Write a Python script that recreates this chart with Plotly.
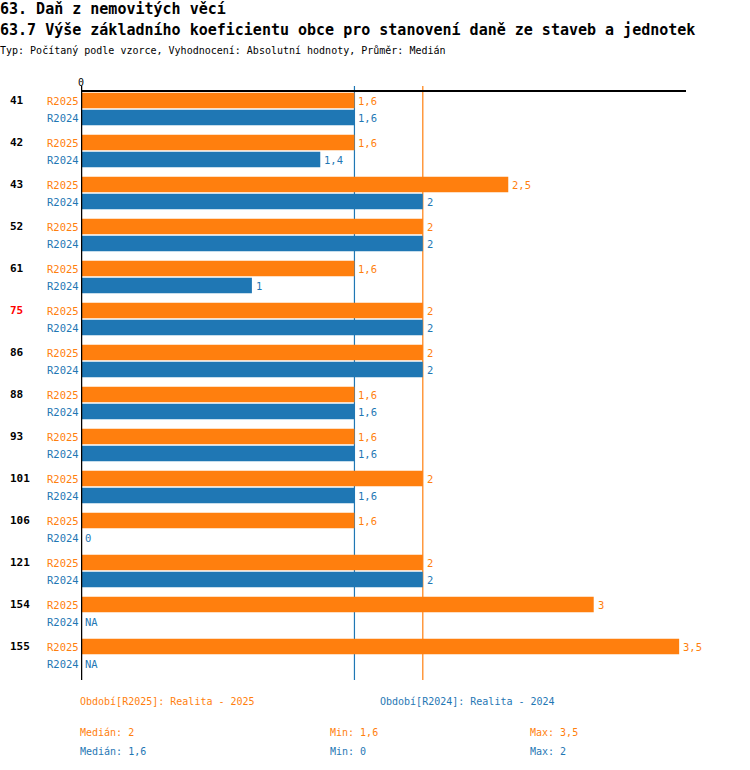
import plotly.graph_objects as go

# Data
groups = ["41", "42", "43", "52", "61", "75", "86", "88", "93", "101", "106", "121", "154", "155"]
r2025 = [1.6, 1.6, 2.5, 2, 1.6, 2, 2, 1.6, 1.6, 2, 1.6, 2, 3, 3.5]
r2024 = [1.6, 1.4, 2, 2, 1, 2, 2, 1.6, 1.6, 1.6, 0, 2, None, None]
highlight = "75"

median_2025 = 2
median_2024 = 1.6
stats_2025 = ["Medián: 2", "Min: 1,6", "Max: 3,5"]
stats_2024 = ["Medián: 1,6", "Min: 0", "Max: 2"]

ORANGE = "#ff7f0e"
BLUE = "#1f77b4"
FONT = "DejaVu Sans Mono"

W, H = 750, 770
L, R, T, B = 81, 64, 92, 90
plot_h = H - T - B
plot_w = W - L - R


def py(p):
    # pixel row -> paper y
    return (H - B - p) / plot_h


def px(p):
    return (p - L) / plot_w


def fmt(v):
    if v is None:
        return "NA"
    return ("%g" % v).replace(".", ",")


fig = go.Figure()
fig.add_trace(go.Bar(y=groups, x=r2025, orientation="h", name="R2025",
                     marker=dict(color=ORANGE, line=dict(width=0))))
fig.add_trace(go.Bar(y=groups, x=r2024, orientation="h", name="R2024",
                     marker=dict(color=BLUE, line=dict(width=0))))

ann = []
for i, (g, a, b) in enumerate(zip(groups, r2025, r2024)):
    ann.append(dict(x=px(8), y=i, xref="paper", yref="y", text="<b>%s</b>" % g,
                    xanchor="left", yshift=8.5, showarrow=False,
                    font=dict(family=FONT, size=11, color="red" if g == highlight else "black")))
    for name, v, col, sh in [("R2025", a, ORANGE, 8.5), ("R2024", b, BLUE, -8.5)]:
        ann.append(dict(x=px(81), y=i, xref="paper", yref="y", text=name, xanchor="right",
                        yshift=sh, showarrow=False, font=dict(family=FONT, size=10.5, color=col)))
        ann.append(dict(x=v if v is not None else 0, y=i, xref="x", yref="y", text=fmt(v),
                        xanchor="left", xshift=2, yshift=sh, showarrow=False,
                        font=dict(family=FONT, size=10.5, color=col)))

# header
header = [
    (9, "<b>63. Daň z nemovitých věcí</b>", 15),
    (30, "<b>63.7 Výše základního koeficientu obce pro stanovení daně ze staveb a jednotek</b>", 15),
    (50, "Typ: Počítaný podle vzorce, Vyhodnocení: Absolutní hodnoty, Průměr: Medián", 10),
]
for y0, txt, sz in header:
    ann.append(dict(x=px(-2), y=py(y0), xref="paper", yref="paper", text=txt,
                    xanchor="left", yanchor="middle", showarrow=False,
                    font=dict(family=FONT, size=sz, color="black")))

# footer
foot = [
    (78, 701, "Období[R2025]: Realita - 2025", ORANGE),
    (378, 701, "Období[R2024]: Realita - 2024", BLUE),
]
for xcol, txt in zip([78, 328, 528], stats_2025):
    foot.append((xcol, 732, txt, ORANGE))
for xcol, txt in zip([78, 328, 528], stats_2024):
    foot.append((xcol, 751, txt, BLUE))
for x0, y0, txt, col in foot:
    ann.append(dict(x=px(x0), y=py(y0), xref="paper", yref="paper", text=txt,
                    xanchor="left", yanchor="middle", showarrow=False,
                    font=dict(family=FONT, size=10, color=col)))

top = 1 + 6 / plot_h
shapes = [
    dict(type="line", x0=median_2024, x1=median_2024, y0=0, y1=top, xref="x", yref="paper",
         line=dict(color=BLUE, width=1.2), layer="below"),
    dict(type="line", x0=median_2025, x1=median_2025, y0=0, y1=top, xref="x", yref="paper",
         line=dict(color=ORANGE, width=1.2), layer="below"),
    dict(type="line", x0=0, x1=0, y0=0, y1=top, xref="x", yref="paper",
         line=dict(color="black", width=2.5)),
]

fig.update_layout(
    width=W, height=H,
    margin=dict(l=L, r=R, t=T, b=B, pad=0),
    paper_bgcolor="white", plot_bgcolor="white",
    barmode="group", bargap=8 / 42, bargroupgap=0.1,
    showlegend=False,
    annotations=ann, shapes=shapes,
    font=dict(family=FONT, size=10, color="black"),
)
fig.update_xaxes(range=[0, 3.54], side="top", tickvals=[0], ticktext=["0"], ticks="",
                 showgrid=False, zeroline=False, showline=True, linecolor="black", linewidth=1.5,
                 tickfont=dict(family=FONT, size=10, color="black"))
fig.update_yaxes(type="category", categoryorder="array", categoryarray=groups,
                 range=[13.595, -0.405], showticklabels=False, ticks="",
                 showgrid=False, zeroline=False, showline=False)
fig.update_traces(cliponaxis=False)

# drop the default body margin so the figure sits at the page corner
fig.write_html("out.html", config={"displayModeBar": False},
               post_script="document.body.style.margin='0';")
